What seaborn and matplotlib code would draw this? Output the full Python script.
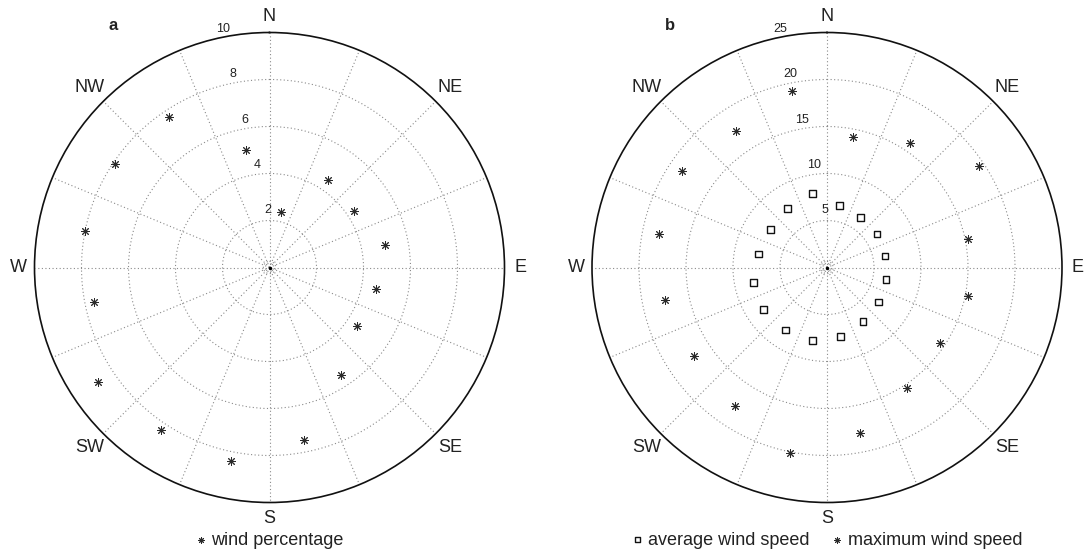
import numpy as np
import pandas as pd
import matplotlib
matplotlib.use("Agg")
import matplotlib.pyplot as plt
import seaborn as sns

# ---------------- data ----------------
bearing_deg = [11.25, 33.75, 56.25, 78.75, 101.25, 123.75, 146.25, 168.75,
               191.25, 213.75, 236.25, 258.75, 281.25, 303.75, 326.25, 348.75]
wind_pct = [2.4, 4.5, 4.3, 5.0, 4.6, 4.5, 5.5, 7.5, 8.4, 8.3, 8.8, 7.6, 8.0, 7.9, 7.7, 5.1]
avg_speed = [6.7, 6.4, 6.4, 6.3, 6.4, 6.6, 6.9, 7.5, 7.9, 8.0, 8.1, 8.0, 7.4, 7.2, 7.6, 8.0]
max_speed = [14.2, 15.9, 19.4, 15.3, 15.3, 14.4, 15.4, 18.0, 20.1, 17.7, 17.0, 17.6, 18.2, 18.5, 17.5, 19.1]

compass_labels = ["N", "NE", "E", "SE", "S", "SW", "W", "NW"]
compass_deg = [0, 45, 90, 135, 180, 225, 270, 315]
rings_a = [2, 4, 6, 8, 10]
rings_b = [5, 10, 15, 20, 25]
panel_letters = ["a", "b"]

# ---------------- style ----------------
sns.set_style("white")
plt.rcParams["font.family"] = ["Liberation Sans", "DejaVu Sans"]

W, H = 1090, 553
fig = plt.figure(figsize=(W / 100, H / 100), dpi=100)

R_PX = 235
centers = [(269.5, 267.5), (827.0, 267.5)]
axes = []
for cx, cy in centers:
    ax = fig.add_axes([(cx - R_PX) / W, (H - cy - R_PX) / H, 2 * R_PX / W, 2 * R_PX / H],
                      projection="polar")
    axes.append(ax)

grid_kw = dict(color="#8a8a8a", linestyle=(0, (1, 2.2)), linewidth=0.8)
label_frac = [0.243, 0.44, 0.637, 0.839, 1.034]
label_ang = [2.0, 7.0, 9.5, 10.7, 11.1]


def setup(ax, rings):
    rmax = rings[-1]
    ax.set_theta_zero_location("N")
    ax.set_theta_direction(-1)
    ax.set_ylim(0, rmax)
    ax.set_xticks(np.deg2rad(np.arange(0, 360, 22.5)))
    ax.set_xticklabels([])
    ax.set_yticks(rings[:-1])
    ax.set_yticklabels([])
    ax.tick_params(length=0)
    ax.grid(True, **grid_kw)
    ax.spines["polar"].set_color("#111111")
    ax.spines["polar"].set_linewidth(1.2)
    ax.set_facecolor("white")
    # small centre circle + dot
    tt = np.linspace(0, 2 * np.pi, 60)
    ax.plot(tt, np.full_like(tt, 0.026 * rmax), **grid_kw)
    ax.plot([0], [0], marker="o", markersize=1.5, color="black")
    # ring labels
    for rv, fr, ang in zip(rings, label_frac, label_ang):
        ax.text(np.deg2rad(-ang), fr * rmax, str(rv), ha="center", va="center",
                fontsize=9, color="#222222")
    # compass labels
    for lab, d in zip(compass_labels, compass_deg):
        rr = 1.068 if d % 90 == 0 else 1.085
        ax.text(np.deg2rad(d), rr * rmax, lab, ha="center", va="center",
                fontsize=13, color="#222222", clip_on=False)


setup(axes[0], rings_a)
setup(axes[1], rings_b)

theta = np.deg2rad(bearing_deg)
star = (8, 2, 0)

dfa = pd.DataFrame({"theta": theta, "r": wind_pct})
sns.scatterplot(data=dfa, x="theta", y="r", marker=star, color="#2a2a2a", s=32,
                linewidth=0.7, ax=axes[0], label="wind percentage", zorder=5)

dfb = pd.DataFrame({"theta": theta, "avg": avg_speed, "max": max_speed})
sns.scatterplot(data=dfb, x="theta", y="avg", marker="s", s=24, facecolor="none",
                edgecolor="#111111", linewidth=1.0, ax=axes[1],
                label="average wind speed", zorder=5)
sns.scatterplot(data=dfb, x="theta", y="max", marker=star, color="#2a2a2a", s=32,
                linewidth=0.7, ax=axes[1], label="maximum wind speed", zorder=5)

for ax in axes:
    ax.set_xlabel("")
    ax.set_ylabel("")
    ax.legend(loc="center", bbox_to_anchor=(0.5, -0.08), ncol=2, frameon=False,
              fontsize=13, handletextpad=0.3, columnspacing=1.2, handlelength=0.6,
              borderpad=0, markerscale=0.75, labelcolor="#222222")

axes[0].set_ylim(0, rings_a[-1])
axes[1].set_ylim(0, rings_b[-1])

for letter, x in zip(panel_letters, [113, 670]):
    fig.text(x / W, 1 - 26 / H, letter, ha="center", va="center",
             fontsize=12, fontweight="bold", color="#222222")

fig.savefig("out.png", dpi=100, facecolor="white")
